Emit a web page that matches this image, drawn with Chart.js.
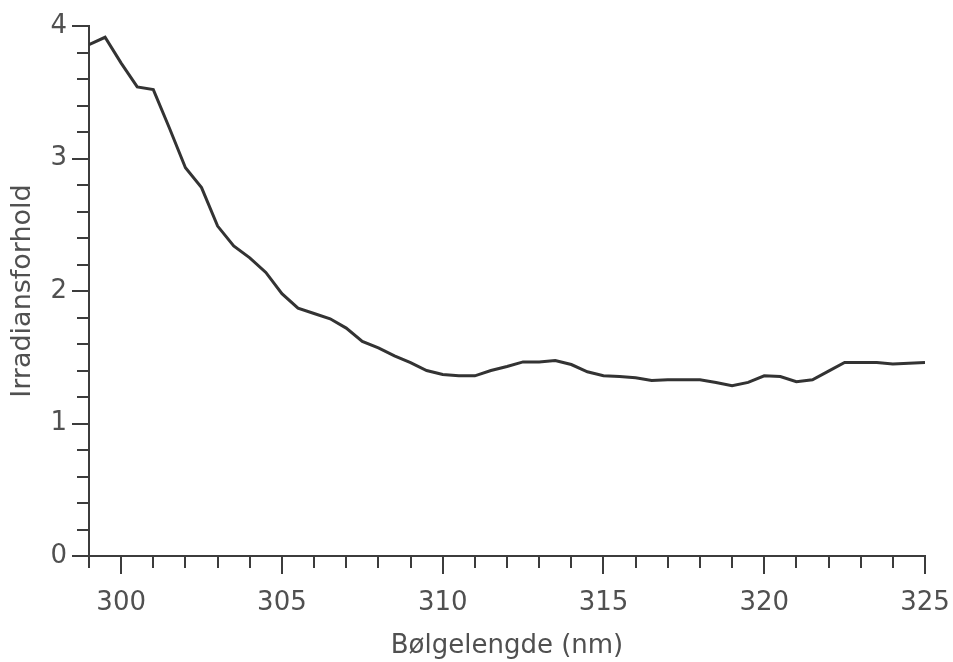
<!DOCTYPE html>
<html>
<head>
<meta charset="utf-8">
<script src="https://cdn.jsdelivr.net/npm/chart.js@4/dist/chart.umd.min.js"></script>
<style>
  html, body { margin: 0; padding: 0; background: #ffffff; }
  #wrap { width: 953px; height: 662px; }
</style>
</head>
<body>
<div id="wrap"><canvas id="c" width="953" height="662"></canvas></div>
<script>
// Wavelength (nm)
const wavelengths = [
  299.0, 299.5, 300.0, 300.5, 301.0, 301.5, 302.0, 302.5, 303.0, 303.5,
  304.0, 304.5, 305.0, 305.5, 306.0, 306.5, 307.0, 307.5, 308.0, 308.5,
  309.0, 309.5, 310.0, 310.5, 311.0, 311.5, 312.0, 312.5, 313.0, 313.5,
  314.0, 314.5, 315.0, 315.5, 316.0, 316.5, 317.0, 317.5, 318.0, 318.5,
  319.0, 319.5, 320.0, 320.5, 321.0, 321.5, 322.0, 322.5, 323.0, 323.5,
  324.0, 324.5, 325.0
];
// Irradiance ratio
const ratios = [
  3.86, 3.915, 3.72, 3.54, 3.52, 3.23, 2.93, 2.78, 2.49, 2.34,
  2.25, 2.14, 1.98, 1.87, 1.83, 1.79, 1.72, 1.62, 1.57, 1.51,
  1.46, 1.40, 1.37, 1.36, 1.36, 1.40, 1.43, 1.465, 1.465, 1.475,
  1.445, 1.39, 1.36, 1.355, 1.345, 1.325, 1.33, 1.33, 1.33, 1.31,
  1.285, 1.31, 1.36, 1.355, 1.315, 1.33, 1.395, 1.46, 1.46, 1.46,
  1.45, 1.455, 1.46
];
const xLabelValues = [300, 305, 310, 315, 320, 325];
const yLabelValues = [0, 1, 2, 3, 4];
const xTitle = 'Bølgelengde (nm)';
const yTitle = 'Irradiansforhold';

const points = wavelengths.map((w, i) => ({ x: w, y: ratios[i] }));
const ink = '#3c3c3c';
const textInk = '#505050';
const near = (a, b) => Math.abs(a - b) < 1e-6;
const isXMajor = v => xLabelValues.some(m => near(m, v));
const isYMajor = v => yLabelValues.some(m => near(m, v));

const tickMarks = {
  id: 'tickMarks',
  afterDraw(chart) {
    const ctx = chart.ctx;
    const a = chart.chartArea;
    const xs = chart.scales.x, ys = chart.scales.y;
    ctx.save();
    ctx.strokeStyle = ink;
    ctx.lineWidth = 2;
    ctx.beginPath();
    xs.ticks.forEach(t => {
      const px = Math.round(xs.getPixelForValue(t.value));
      const len = isXMajor(t.value) ? 18 : 12;
      ctx.moveTo(px, a.bottom);
      ctx.lineTo(px, a.bottom + len);
    });
    ys.ticks.forEach(t => {
      const py = Math.round(ys.getPixelForValue(t.value));
      const len = isYMajor(t.value) ? 17 : 12;
      ctx.moveTo(a.left, py);
      ctx.lineTo(a.left - len, py);
    });
    ctx.stroke();
    ctx.restore();
  }
};

new Chart(document.getElementById('c'), {
  type: 'line',
  data: {
    datasets: [{
      data: points,
      borderColor: '#333333',
      borderWidth: 3,
      pointRadius: 0,
      tension: 0,
      fill: false
    }]
  },
  options: {
    responsive: false,
    animation: false,
    layout: { padding: { top: 26, right: 28, left: 0, bottom: 0 } },
    plugins: { legend: { display: false }, tooltip: { enabled: false } },
    scales: {
      x: {
        type: 'linear',
        min: 299,
        max: 325,
        grid: { display: false, drawTicks: false },
        border: { display: true, color: ink, width: 2 },
        ticks: {
          stepSize: 1,
          autoSkip: false,
          maxRotation: 0,
          padding: 32,
          color: textInk,
          font: { family: 'DejaVu Sans', size: 26 },
          callback: v => isXMajor(v) ? String(Math.round(v)) : ''
        },
        title: {
          display: true,
          text: xTitle,
          color: textInk,
          font: { family: 'DejaVu Sans', size: 26 },
          padding: { top: 0, bottom: 0 }
        },
        afterFit(s) { s.height = 106; s.paddingLeft = 0; s.paddingRight = 0; }
      },
      y: {
        min: 0,
        max: 4,
        grid: { display: false, drawTicks: false },
        border: { display: true, color: ink, width: 2 },
        ticks: {
          stepSize: 0.2,
          autoSkip: false,
          padding: 22,
          color: textInk,
          font: { family: 'DejaVu Sans', size: 26 },
          callback: v => isYMajor(v) ? String(Math.round(v)) : ''
        },
        title: {
          display: true,
          text: yTitle,
          color: textInk,
          font: { family: 'DejaVu Sans', size: 27 },
          padding: { top: 7, bottom: 0 }
        },
        afterFit(s) { s.width = 89; s.paddingTop = 0; s.paddingBottom = 0; }
      }
    }
  },
  plugins: [tickMarks]
});
</script>
</body>
</html>
